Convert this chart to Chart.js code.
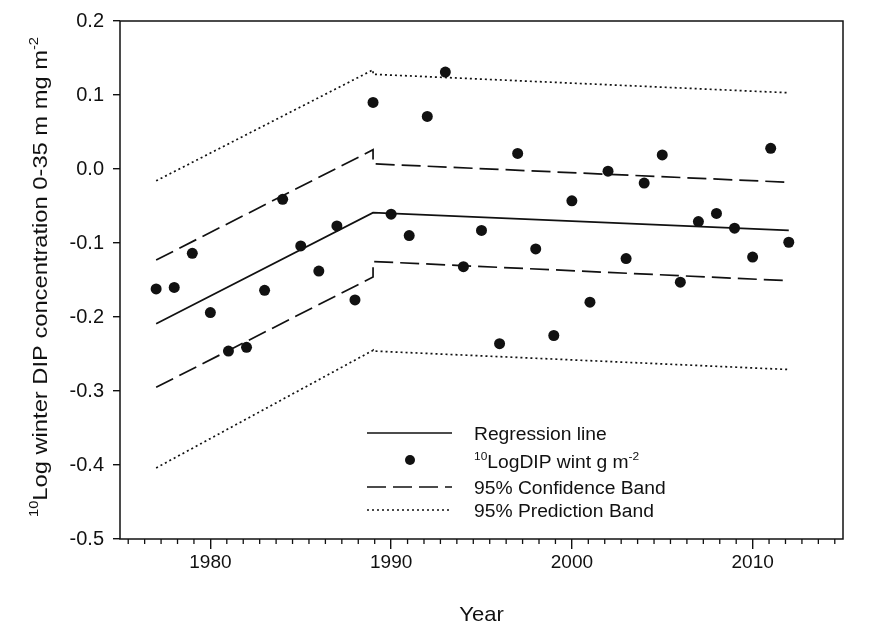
<!DOCTYPE html>
<html lang="en">
<head>
  <meta charset="UTF-8" />
  <title>Winter DIP trend</title>
  <script src="https://cdn.jsdelivr.net/npm/chart.js"></script>
  <style>
    body { margin: 0; background: #fff; }
    canvas { display: block; }
  </style>
</head>
<body>
  <canvas id="dipChart" width="885" height="627"></canvas>

  <script>
    // yearly observations
    const years = [1977, 1978, 1979, 1980, 1981, 1982, 1983, 1984, 1985, 1986, 1987, 1988,
                   1989, 1990, 1991, 1992, 1993, 1994, 1995, 1996, 1997, 1998, 1999, 2000,
                   2001, 2002, 2003, 2004, 2005, 2006, 2007, 2008, 2009, 2010, 2011, 2012];
    const dipValues = [-0.162, -0.160, -0.114, -0.194, -0.246, -0.241, -0.164, -0.041, -0.104, -0.138, -0.077, -0.177,
                       0.090, -0.061, -0.090, 0.071, 0.131, -0.132, -0.083, -0.236, 0.021, -0.108, -0.225, -0.043,
                       -0.180, -0.003, -0.121, -0.019, 0.019, -0.153, -0.071, -0.060, -0.080, -0.119, 0.028, -0.099];

    // piecewise regression, break at 1989
    const regYears = [1977, 1989, 2012];
    const regValues = [-0.209, -0.059, -0.083];

    // bands jump at the break, so 1989 appears twice
    const bandYears = [1977, 1989, 1989, 2012];
    const confUpper = [-0.123, 0.026, 0.007, -0.018];
    const confLower = [-0.295, -0.146, -0.125, -0.151];
    const predUpper = [-0.016, 0.134, 0.128, 0.103];
    const predLower = [-0.404, -0.245, -0.246, -0.271];

    const xMajorTicks = [1980, 1990, 2000, 2010];
    const yTicks = [-0.5, -0.4, -0.3, -0.2, -0.1, 0.0, 0.1, 0.2];

    const FONT = "'Liberation Sans', Arial, sans-serif";
    const INK = '#111';

    const toXY = (xs, ys) => xs.map((x, i) => ({ x, y: ys[i] }));

    function lineSet(label, xs, ys, dash, width) {
      return {
        type: 'line', label, data: toXY(xs, ys),
        borderColor: INK, borderWidth: width, borderDash: dash,
        pointRadius: 0, fill: false, tension: 0
      };
    }

    // draws text runs, some raised as superscripts; sx widens the glyphs
    function richText(ctx, parts, x, y, size, sx = 1) {
      ctx.save();
      ctx.translate(x, y);
      ctx.scale(sx, 1);
      let cx = 0;
      parts.forEach(p => {
        const s = p.sup ? size * 0.62 : size;
        ctx.font = `${s}px ${FONT}`;
        ctx.fillText(p.t, cx, p.sup ? -size * 0.42 : 0);
        cx += ctx.measureText(p.t).width;
      });
      ctx.restore();
      return cx * sx;
    }
    function richWidth(ctx, parts, size) {
      let w = 0;
      parts.forEach(p => {
        ctx.font = `${p.sup ? size * 0.62 : size}px ${FONT}`;
        w += ctx.measureText(p.t).width;
      });
      return w;
    }

    const yTitle = [{ t: '10', sup: true }, { t: 'Log winter DIP concentration 0-35 m mg m' }, { t: '-2', sup: true }];
    const legendItems = [
      { kind: 'line', dash: [], parts: [{ t: 'Regression line' }] },
      { kind: 'dot', parts: [{ t: '10', sup: true }, { t: 'LogDIP wint g m' }, { t: '-2', sup: true }] },
      { kind: 'line', dash: [19, 7], parts: [{ t: '95% Confidence Band' }] },
      { kind: 'line', dash: [2, 3], parts: [{ t: '95% Prediction Band' }] }
    ];

    const decorations = {
      id: 'decorations',
      afterDraw(chart) {
        const { ctx, chartArea: a, scales } = chart;
        ctx.save();

        // frame
        ctx.strokeStyle = INK;
        ctx.lineWidth = 1.5;
        ctx.strokeRect(a.left, a.top, a.right - a.left, a.bottom - a.top);

        // minor year ticks (ten between labelled decades)
        ctx.lineWidth = 1.3;
        ctx.beginPath();
        for (let k = -5; k <= 38; k++) {
          if (k % 11 === 0) continue;
          const px = scales.x.getPixelForValue(1980 + k * 10 / 11);
          ctx.moveTo(px, a.bottom);
          ctx.lineTo(px, a.bottom + 5);
        }
        ctx.stroke();

        ctx.fillStyle = INK;
        ctx.textBaseline = 'alphabetic';
        ctx.textAlign = 'left';

        // y title, stretched along its length to span 37..517
        const ts = 21;
        const tw = richWidth(ctx, yTitle, ts);
        const span = 480;
        ctx.save();
        ctx.translate(47, 517);
        ctx.rotate(-Math.PI / 2);
        richText(ctx, yTitle, 0, 0, ts, span / tw);
        ctx.restore();

        // x title
        ctx.font = `21px ${FONT}`;
        ctx.save();
        ctx.translate((a.left + a.right) / 2, 621);
        ctx.scale(1.05, 1);
        ctx.textAlign = 'center';
        ctx.fillText('Year', 0, 0);
        ctx.restore();

        // legend
        const rows = [433, 461, 487, 510];
        legendItems.forEach((it, i) => {
          const y = rows[i];
          if (it.kind === 'line') {
            ctx.setLineDash(it.dash);
            ctx.lineWidth = 1.6;
            ctx.beginPath();
            ctx.moveTo(367, y);
            ctx.lineTo(452, y);
            ctx.stroke();
            ctx.setLineDash([]);
          } else {
            ctx.beginPath();
            ctx.arc(410, y - 1, 5, 0, Math.PI * 2);
            ctx.fill();
          }
          richText(ctx, it.parts, 474, y + 6.5, 18, 1.07);
        });

        ctx.restore();
      }
    };

    new Chart(document.getElementById('dipChart'), {
      data: {
        datasets: [
          lineSet('Regression line', regYears, regValues, [], 1.7),
          lineSet('95% Confidence Band', bandYears, confUpper, [19, 7], 1.7),
          lineSet('95% Confidence Band', bandYears, confLower, [19, 7], 1.7),
          lineSet('95% Prediction Band', bandYears, predUpper, [2, 3], 1.7),
          lineSet('95% Prediction Band', bandYears, predLower, [2, 3], 1.7),
          {
            type: 'scatter', label: 'LogDIP wint', data: toXY(years, dipValues),
            backgroundColor: INK, borderWidth: 0, pointRadius: 5.5, pointHoverRadius: 5.5
          }
        ]
      },
      options: {
        responsive: false,
        animation: false,
        layout: { padding: { top: 20, right: 42, left: 0, bottom: 0 } },
        plugins: { legend: { display: false }, tooltip: { enabled: false } },
        scales: {
          x: {
            type: 'linear', min: 1975, max: 2015,
            afterBuildTicks: s => { s.ticks = xMajorTicks.map(v => ({ value: v })); },
            afterFit: s => { s.height = 88; },
            border: { display: false },
            grid: { drawOnChartArea: false, drawTicks: true, tickLength: 10, color: INK, lineWidth: 1.4 },
            ticks: { color: INK, font: { family: FONT, size: 19 }, padding: 2, maxRotation: 0, callback: v => String(v) }
          },
          y: {
            type: 'linear', min: -0.5, max: 0.2,
            afterBuildTicks: s => { s.ticks = yTicks.map(v => ({ value: v })); },
            afterFit: s => { s.width = 120; },
            border: { display: false },
            grid: { drawOnChartArea: false, drawTicks: true, tickLength: 7, color: INK, lineWidth: 1.4 },
            ticks: { color: INK, font: { family: FONT, size: 20 }, padding: 9, callback: v => v.toFixed(1) }
          }
        }
      },
      plugins: [decorations]
    });
  </script>
</body>
</html>
